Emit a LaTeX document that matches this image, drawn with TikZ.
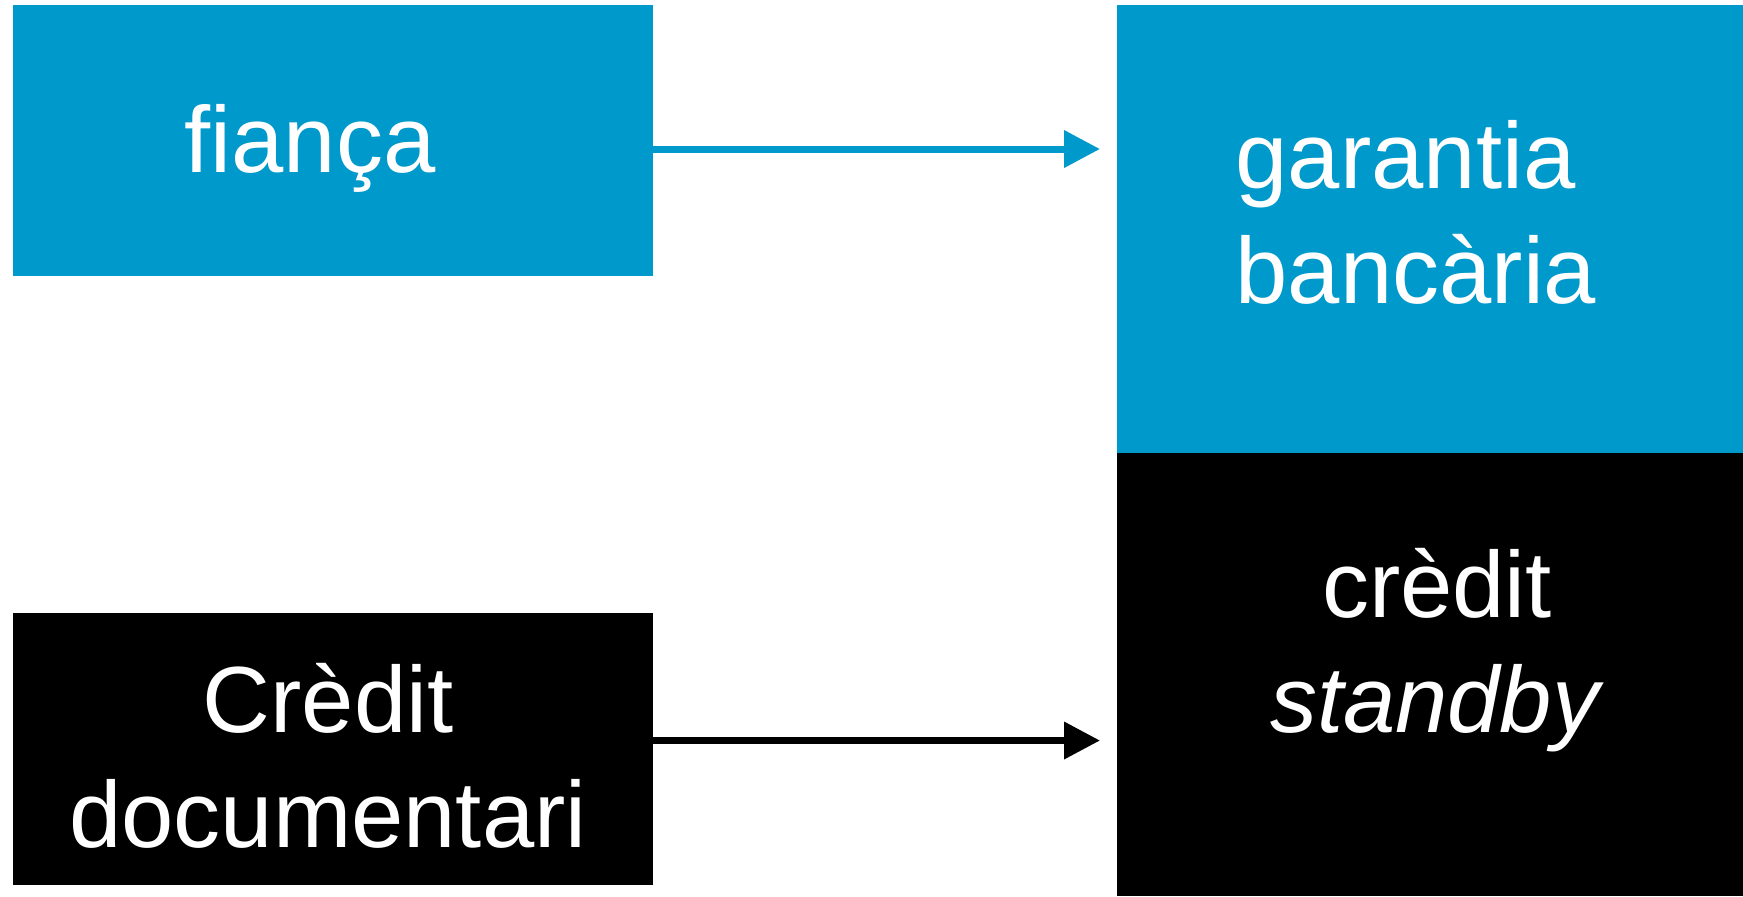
\documentclass[tikz,border=0pt]{standalone}
\usepackage{fontspec}
\setmainfont{Liberation Sans}
\usetikzlibrary{arrows.meta}

\definecolor{bankblue}{RGB}{0,153,204}

\begin{document}
\begin{tikzpicture}[x=0.5pt, y=-0.5pt,
    box/.style={rectangle, inner sep=0pt, outer sep=0pt, anchor=north west},
    txt/.style={text=white, font=\fontsize{47}{57.5}\selectfont, inner sep=0pt, anchor=base},
    link/.style={line width=3.5pt, -{Triangle[length=18pt, width=18pt]}, shorten >=8.5pt}]
    \useasboundingbox (0,0) rectangle (1743,896);

    % draw boxes
    \node[box, fill=bankblue, minimum width=320pt, minimum height=135.5pt] (fianca) at (13,5) {};
    \node[box, fill=bankblue, minimum width=313pt, minimum height=224pt] (garantia) at (1117,5) {};
    \node[box, fill=black, minimum width=313pt, minimum height=221.5pt] (standby) at (1117,453) {};
    \node[box, fill=black, minimum width=320pt, minimum height=136pt] (documentari) at (13,613) {};

    % draw texts (base = last line)
    \node[txt] (tfianca) at (310,172) {fiança};
    \node[txt, align=left] (tgarantia) at (1416,303) {garantia\\bancària};
    \node[txt, align=center] (tstandby) at (1437,732) {crèdit\\\textit{standby}};
    \node[txt, align=center] (tdocumentari) at (328,847) {Crèdit\\documentari};

    % draw arrows
    \draw[link, bankblue] ([yshift=-4.25pt]fianca.east) -- ([yshift=-4.25pt]fianca.east -| garantia.west);
    \draw[link, black] ([yshift=4.25pt]documentari.east) -- ([yshift=4.25pt]documentari.east -| standby.west);
\end{tikzpicture}
\end{document}
